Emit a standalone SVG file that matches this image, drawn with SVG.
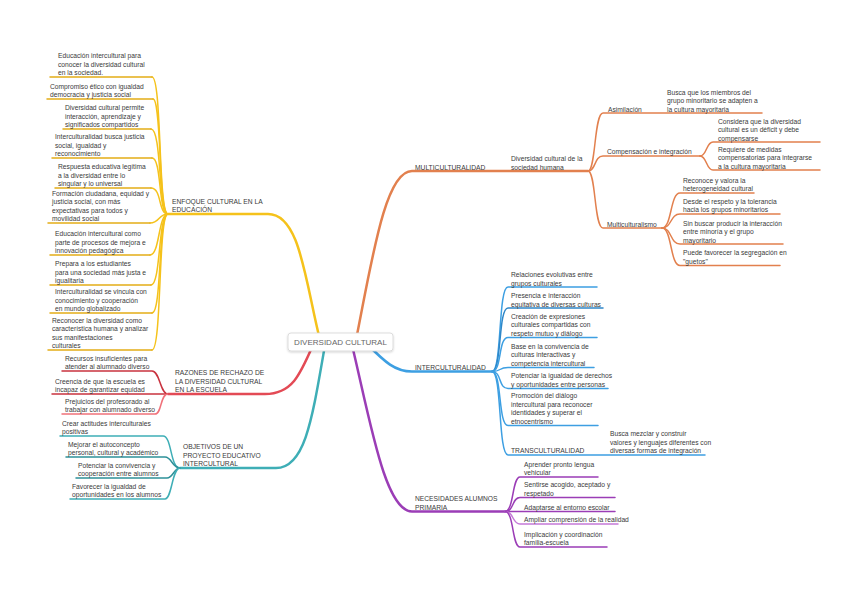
<svg xmlns="http://www.w3.org/2000/svg" width="848" height="599" viewBox="0 0 848 599">
<style>
.t{font-family:"Liberation Sans",Arial,sans-serif;font-size:6.7px;fill:#3a3a3a}
.h{font-family:"Liberation Sans",Arial,sans-serif;font-size:6.7px;fill:#3a3a3a}
.c{fill:none;stroke-linecap:round}
.m{stroke-width:2.5}
.l{stroke-width:1.5}
.yl{stroke:#f5c21b}.yd{stroke:#e3ad17}
.or{stroke:#e2804e}
.rd{stroke:#e34a55}.rdd{stroke:#c9333f}.rdl{stroke:#f0717a}
.tl{stroke:#3eaeb6}.tld{stroke:#2e9199}
.bl{stroke:#3d9fe2}.bld{stroke:#2f87c8}
.pu{stroke:#9b3db6}.pul{stroke:#c57ad8}
</style>
<defs>
<filter id="sh" x="-20%" y="-40%" width="140%" height="180%"><feDropShadow dx="0" dy="1" stdDeviation="1" flood-color="#000" flood-opacity="0.18"/></filter>
</defs>
<rect width="848" height="599" fill="#fff"/>
<g id="connectors">
<path class="c m yl" d="M320 340 C305 280 300 214 268 214 H168"/>
<path class="c m or" d="M356 340 C372 260 385 171 412 171 H588"/>
<path class="c m rd" d="M313 345 C300 375 292 394 265 394 H168"/>
<path class="c m tl" d="M325 345 C312 420 305 468 276 468 H180"/>
<path class="c m pu" d="M352 345 C370 420 385 511.5 412 511.5 H505"/>
<path class="c m bl" d="M368 345 C385 362 395 371.5 412 371.5 H492"/>
<path class="c l yl" d="M168 214 C158 214 162 77 152 77"/><path class="c l yd" d="M152 77 H50"/>
<path class="c l yl" d="M168 214 C158 214 162 99 153 99"/><path class="c l yd" d="M153 99 H47"/>
<path class="c l yl" d="M168 214 C158 214 162 129 151 129"/><path class="c l yd" d="M151 129 H63"/>
<path class="c l yl" d="M168 214 C158 214 162 158 152 158"/><path class="c l yd" d="M152 158 H52"/>
<path class="c l yl" d="M168 214 C158 214 162 188 151 188"/><path class="c l yd" d="M151 188 H55"/>
<path class="c l yl" d="M168 214 C158 214 160 223 150 223"/><path class="c l yd" d="M150 223 H48"/>
<path class="c l yl" d="M168 214 C158 214 160 255 150 255"/><path class="c l yd" d="M150 255 H50"/>
<path class="c l yl" d="M168 214 C158 214 161 285 151 285"/><path class="c l yd" d="M151 285 H50"/>
<path class="c l yl" d="M168 214 C158 214 162 313 152 313"/><path class="c l yd" d="M152 313 H50"/>
<path class="c l yl" d="M168 214 C158 214 162 350 152 350"/><path class="c l yd" d="M152 350 H48"/>
<path class="c l rdd" d="M168 394 C160 394 160 371 152 371 H62"/>
<path class="c l rdd" d="M168 394 H52"/>
<path class="c l rdl" d="M168 394 C160 394 162 414 155 414 H62"/>
<path class="c l tl" d="M180 468 C170 468 172 436 163 436 H60"/>
<path class="c l tld" d="M180 468 C172 468 172 457 165 457 H66"/>
<path class="c l tld" d="M180 468 C174 468 173 478 167 478 H76"/>
<path class="c l tl" d="M180 468 C172 468 172 499 165 499 H70"/>
<path class="c l or" d="M588 171 C596 171 594 113 603 113 H762"/>
<path class="c l or" d="M588 171 C596 171 594 156 603 156 H700"/>
<path class="c l or" d="M588 171 C596 171 594 228 603 228 H662"/>
<path class="c l or" d="M700 156 C707 156 706 142 713 142 H820"/>
<path class="c l or" d="M700 156 C707 156 706 170 713 170 H820"/>
<path class="c l or" d="M662 228 C672 228 670 193 680 193 H754"/>
<path class="c l or" d="M662 228 C672 228 670 214 680 214 H780"/>
<path class="c l or" d="M662 228 C672 228 670 244 680 244 H783"/>
<path class="c l or" d="M662 228 C672 228 670 265.5 680 265.5 H780"/>
<path class="c l bl" d="M492 371.5 C502 371.5 498 287 508 287 H597"/>
<path class="c l bld" d="M492 371.5 C502 371.5 498 308 508 308 H603"/>
<path class="c l bl" d="M492 371.5 C502 371.5 498 337.5 508 337.5 H597"/>
<path class="c l bl" d="M492 371.5 C502 371.5 498 367.5 508 367.5 H594"/>
<path class="c l bl" d="M492 371.5 C502 371.5 498 388.5 508 388.5 H608"/>
<path class="c l bl" d="M492 371.5 C502 371.5 498 425.5 508 425.5 H598"/>
<path class="c l bl" d="M492 371.5 C502 371.5 498 455 508 455 H705"/>
<path class="c l pu" d="M505 511.5 C514 511.5 512 477 520 477 H598"/>
<path class="c l pu" d="M505 511.5 C514 511.5 512 497.5 520 497.5 H615"/>
<path class="c l pu" d="M505 511.5 H615"/>
<path class="c l pul" d="M505 511.5 C514 511.5 512 524 520 524 H618"/>
<path class="c l pu" d="M505 511.5 C514 511.5 512 547 520 547 H607"/>
</g>
<g id="center">
<rect x="288" y="333" width="105" height="18" rx="3" fill="#fff" stroke="#d4d4d4" stroke-width="0.8" filter="url(#sh)"/>
<text x="340.5" y="345" text-anchor="middle" font-family="Liberation Sans, Arial, sans-serif" font-size="8px" fill="#666">DIVERSIDAD CULTURAL</text>
</g>
<g id="enfoque">
<text class="h" x="172"><tspan x="172" y="204">ENFOQUE CULTURAL EN LA</tspan><tspan x="172" y="212">EDUCACIÓN</tspan></text>
</g>
<g id="y1"><text class="t"><tspan x="58" y="58">Educación intercultural para</tspan><tspan x="58" y="66.5">conocer la diversidad cultural</tspan><tspan x="58" y="75">en la sociedad.</tspan></text></g>
<g id="y2"><text class="t"><tspan x="50" y="88.5">Compromiso ético con igualdad</tspan><tspan x="50" y="97">democracia y justicia social</tspan></text></g>
<g id="y3"><text class="t"><tspan x="65" y="110">Diversidad cultural permite</tspan><tspan x="65" y="118.5">interacción, aprendizaje y</tspan><tspan x="65" y="127">significados compartidos</tspan></text></g>
<g id="y4"><text class="t"><tspan x="55" y="139">Interculturalidad busca justicia</tspan><tspan x="55" y="147.5">social, igualdad y</tspan><tspan x="55" y="156">reconocimiento</tspan></text></g>
<g id="y5"><text class="t"><tspan x="58" y="169">Respuesta educativa legítima</tspan><tspan x="58" y="177.5">a la diversidad entre lo</tspan><tspan x="58" y="186">singular y lo universal</tspan></text></g>
<g id="y6"><text class="t"><tspan x="52" y="195.5">Formación ciudadana, equidad y</tspan><tspan x="52" y="204">justicia social, con más</tspan><tspan x="52" y="212.5">expectativas para todos y</tspan><tspan x="52" y="221">movilidad social</tspan></text></g>
<g id="y7"><text class="t"><tspan x="55" y="236">Educación intercultural como</tspan><tspan x="55" y="244.5">parte de procesos de mejora e</tspan><tspan x="55" y="253">innovación pedagógica</tspan></text></g>
<g id="y8"><text class="t"><tspan x="55" y="266">Prepara a los estudiantes</tspan><tspan x="55" y="274.5">para una sociedad más justa e</tspan><tspan x="55" y="283">igualitaria</tspan></text></g>
<g id="y9"><text class="t"><tspan x="55" y="294">Interculturalidad se vincula con</tspan><tspan x="55" y="302.5">conocimiento y cooperación</tspan><tspan x="55" y="311">en mundo globalizado</tspan></text></g>
<g id="y10"><text class="t"><tspan x="52" y="322.5">Reconocer la diversidad como</tspan><tspan x="52" y="331">característica humana y analizar</tspan><tspan x="52" y="339.5">sus manifestaciones</tspan><tspan x="52" y="348">culturales</tspan></text></g>
<g id="razones"><text class="h"><tspan x="175" y="375">RAZONES DE RECHAZO DE</tspan><tspan x="175" y="383.5">LA DIVERSIDAD CULTURAL</tspan><tspan x="175" y="392">EN LA ESCUELA</tspan></text></g>
<g id="r1"><text class="t"><tspan x="65" y="360.5">Recursos insuficientes para</tspan><tspan x="65" y="369">atender al alumnado diverso</tspan></text></g>
<g id="r2"><text class="t"><tspan x="55" y="383.5">Creencia de que la escuela es</tspan><tspan x="55" y="392">incapaz de garantizar equidad</tspan></text></g>
<g id="r3"><text class="t"><tspan x="65" y="403.5">Prejuicios del profesorado al</tspan><tspan x="65" y="412">trabajar con alumnado diverso</tspan></text></g>
<g id="objetivos"><text class="h"><tspan x="183" y="449">OBJETIVOS DE UN</tspan><tspan x="183" y="457.5">PROYECTO EDUCATIVO</tspan><tspan x="183" y="466">INTERCULTURAL</tspan></text></g>
<g id="o1"><text class="t"><tspan x="62" y="425.5">Crear actitudes interculturales</tspan><tspan x="62" y="434">positivas</tspan></text></g>
<g id="o2"><text class="t"><tspan x="68" y="446.5">Mejorar el autoconcepto</tspan><tspan x="68" y="455">personal, cultural y académico</tspan></text></g>
<g id="o3"><text class="t"><tspan x="78" y="467.5">Potenciar la convivencia y</tspan><tspan x="78" y="476">cooperación entre alumnos</tspan></text></g>
<g id="o4"><text class="t"><tspan x="72" y="488.5">Favorecer la igualdad de</tspan><tspan x="72" y="497">oportunidades en los alumnos</tspan></text></g>
<g id="multi"><text class="h" x="415" y="169.5">MULTICULTURALIDAD</text></g>
<g id="m0"><text class="t"><tspan x="511" y="161">Diversidad cultural de la</tspan><tspan x="511" y="169.5">sociedad humana</tspan></text></g>
<g id="m1"><text class="t" x="608" y="111.5">Asimilación</text></g>
<g id="m1a"><text class="t"><tspan x="667" y="94.5">Busca que los miembros del</tspan><tspan x="667" y="103">grupo minoritario se adapten a</tspan><tspan x="667" y="111.5">la cultura mayoritaria</tspan></text></g>
<g id="m2"><text class="t" x="607" y="154">Compensación e integración</text></g>
<g id="m2a"><text class="t"><tspan x="718" y="123.5">Considera que la diversidad</tspan><tspan x="718" y="132">cultural es un déficit y debe</tspan><tspan x="718" y="140.5">compensarse</tspan></text></g>
<g id="m2b"><text class="t"><tspan x="718" y="151.5">Requiere de medidas</tspan><tspan x="718" y="160">compensatorias para integrarse</tspan><tspan x="718" y="168.5">a la cultura mayoritaria</tspan></text></g>
<g id="m3"><text class="t" x="607" y="226.5">Multiculturalismo</text></g>
<g id="m3a"><text class="t"><tspan x="683" y="182.5">Reconoce y valora la</tspan><tspan x="683" y="191">heterogeneidad cultural</tspan></text></g>
<g id="m3b"><text class="t"><tspan x="683" y="203.5">Desde el respeto y la tolerancia</tspan><tspan x="683" y="212">hacia los grupos minoritarios</tspan></text></g>
<g id="m3c"><text class="t"><tspan x="683" y="225.5">Sin buscar producir la interacción</tspan><tspan x="683" y="234">entre minoría y el grupo</tspan><tspan x="683" y="242.5">mayoritario</tspan></text></g>
<g id="m3d"><text class="t"><tspan x="683" y="255">Puede favorecer la segregación en</tspan><tspan x="683" y="263.5">"guetos"</tspan></text></g>
<g id="inter"><text class="h" x="415" y="369.5">INTERCULTURALIDAD</text></g>
<g id="i1"><text class="t"><tspan x="511" y="277">Relaciones evolutivas entre</tspan><tspan x="511" y="285.5">grupos culturales</tspan></text></g>
<g id="i2"><text class="t"><tspan x="511" y="298">Presencia e interacción</tspan><tspan x="511" y="306.5">equitativa de diversas culturas</tspan></text></g>
<g id="i3"><text class="t"><tspan x="511" y="318.5">Creación de expresiones</tspan><tspan x="511" y="327">culturales compartidas con</tspan><tspan x="511" y="335.5">respeto mutuo y diálogo</tspan></text></g>
<g id="i4"><text class="t"><tspan x="511" y="348.5">Base en la convivencia de</tspan><tspan x="511" y="357">culturas interactivas y</tspan><tspan x="511" y="365.5">competencia intercultural</tspan></text></g>
<g id="i5"><text class="t"><tspan x="511" y="378">Potenciar la igualdad de derechos</tspan><tspan x="511" y="386.5">y oportunidades entre personas</tspan></text></g>
<g id="i6"><text class="t"><tspan x="511" y="398">Promoción del diálogo</tspan><tspan x="511" y="406.5">intercultural para reconocer</tspan><tspan x="511" y="415">identidades y superar el</tspan><tspan x="511" y="423.5">etnocentrismo</tspan></text></g>
<g id="trans"><text class="h" x="511" y="452.5">TRANSCULTURALIDAD</text></g>
<g id="t1"><text class="t"><tspan x="610" y="436">Busca mezclar y construir</tspan><tspan x="610" y="444.5">valores y lenguajes diferentes con</tspan><tspan x="610" y="453">diversas formas de integración</tspan></text></g>
<g id="neces"><text class="h"><tspan x="415" y="501">NECESIDADES ALUMNOS</tspan><tspan x="415" y="509.5">PRIMARIA</tspan></text></g>
<g id="n1"><text class="t"><tspan x="524" y="466.5">Aprender pronto lengua</tspan><tspan x="524" y="475">vehicular</tspan></text></g>
<g id="n2"><text class="t"><tspan x="524" y="487">Sentirse acogido, aceptado y</tspan><tspan x="524" y="495.5">respetado</tspan></text></g>
<g id="n3"><text class="t" x="524" y="509.5">Adaptarse al entorno escolar</text></g>
<g id="n4"><text class="t" x="524" y="522">Ampliar comprensión de la realidad</text></g>
<g id="n5"><text class="t"><tspan x="524" y="536.5">Implicación y coordinación</tspan><tspan x="524" y="545">familia-escuela</tspan></text></g>
</svg>
